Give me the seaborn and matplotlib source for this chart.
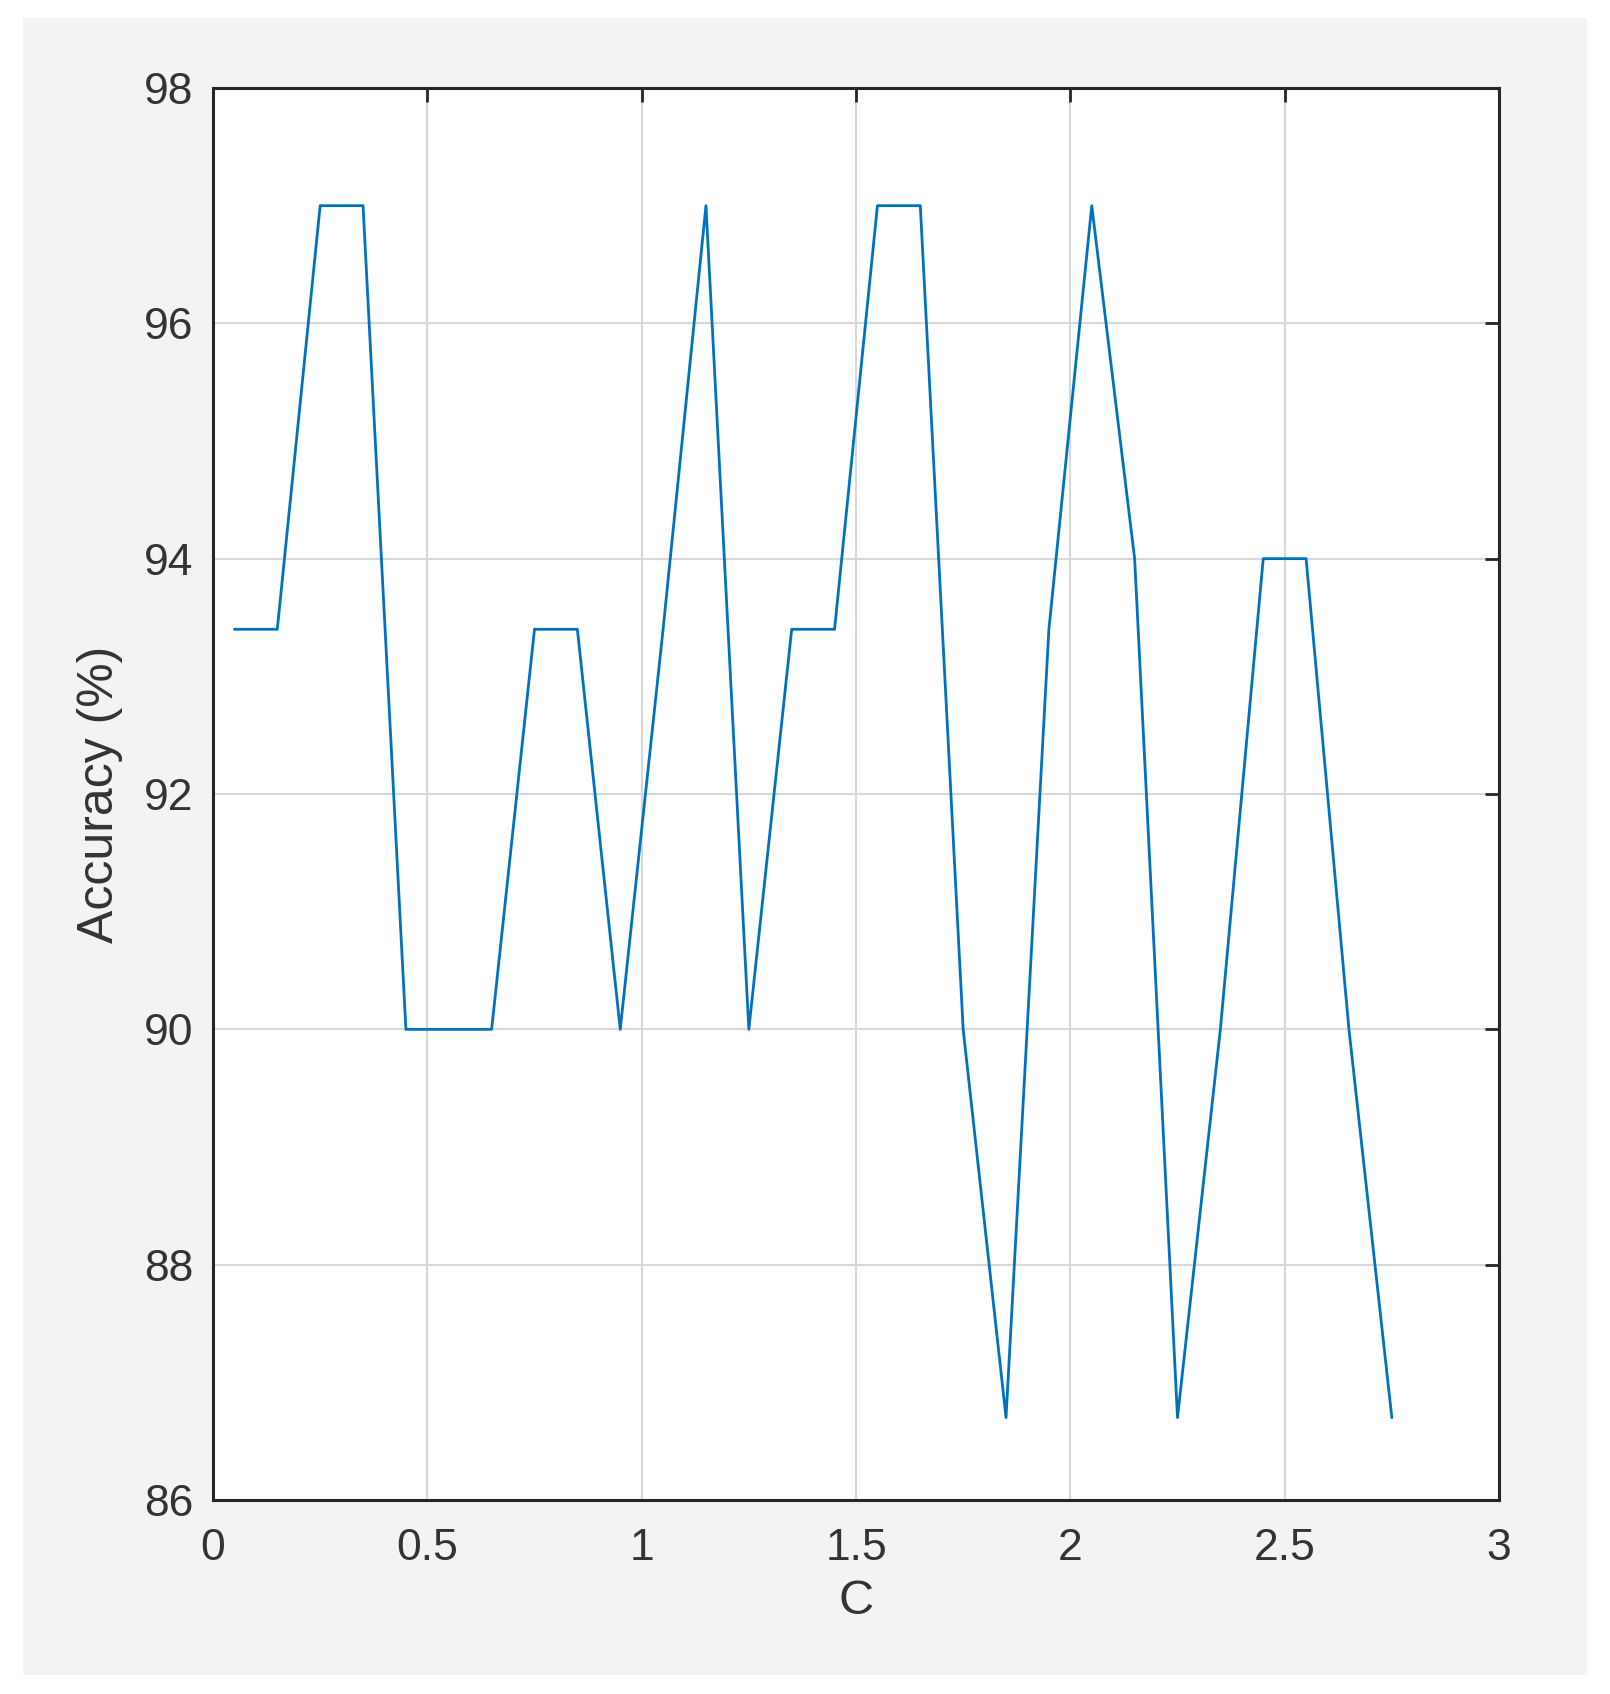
import matplotlib
matplotlib.use("Agg")
import matplotlib.pyplot as plt
import seaborn as sns
import pandas as pd

# data
c_values = [0.05, 0.15, 0.25, 0.35, 0.45, 0.55, 0.65, 0.75, 0.85, 0.95,
            1.05, 1.15, 1.25, 1.35, 1.45, 1.55, 1.65, 1.75, 1.85, 1.95,
            2.05, 2.15, 2.25, 2.35, 2.45, 2.55, 2.65, 2.75]
accuracy = [93.4, 93.4, 97.0, 97.0, 90.0, 90.0, 90.0, 93.4, 93.4, 90.0,
            93.4, 97.0, 90.0, 93.4, 93.4, 97.0, 97.0, 90.0, 86.7, 93.4,
            97.0, 94.0, 86.7, 90.0, 94.0, 94.0, 90.0, 86.7]
x_ticks = [0, 0.5, 1, 1.5, 2, 2.5, 3]
x_tick_labels = ["0", "0.5", "1", "1.5", "2", "2.5", "3"]
y_ticks = [86, 88, 90, 92, 94, 96, 98]

sns.set_style("white")
plt.rcParams['font.family'] = ['Liberation Sans', 'DejaVu Sans']

dados = pd.DataFrame({'C': c_values, 'Accuracy': accuracy})

fig = plt.figure(figsize=(16.10, 16.94), dpi=100)
fig.patch.set_facecolor('white')

# gray MATLAB-like figure background (separate axes underneath)
bg = fig.add_axes([23 / 1610, 19 / 1694, 1564 / 1610, 1657 / 1694], zorder=0)
bg.set_facecolor('#f3f3f3')
bg.set_xticks([])
bg.set_yticks([])
for s in bg.spines.values():
    s.set_visible(False)

ax = fig.add_axes([213 / 1610, 194 / 1694, 1286 / 1610, 1412 / 1694], zorder=2)
ax.set_facecolor('white')

sns.lineplot(data=dados, x='C', y='Accuracy', ax=ax, color='#0072BD', linewidth=2.0)

ax.set_xlim(0, 3)
ax.set_ylim(86, 98)
ax.set_xticks(x_ticks)
ax.set_xticklabels(x_tick_labels)
ax.set_yticks(y_ticks)

ax.grid(True, color='#d8d8d8', linewidth=1.5)
ax.set_axisbelow(True)

for s in ax.spines.values():
    s.set_visible(True)
    s.set_color('#262626')
    s.set_linewidth(2.2)

ax.tick_params(axis='both', direction='in', length=10, width=2, color='#262626',
               labelsize=32, labelcolor='#333333', top=True, right=True)
ax.tick_params(axis='x', pad=20)
ax.tick_params(axis='y', pad=14)

ax.set_xlabel('C', fontsize=35, color='#333333')
ax.set_ylabel('Accuracy (%)', fontsize=36, color='#333333')
ax.xaxis.set_label_coords(0.5, -0.072)
ax.xaxis.label.set_va('center')
ax.yaxis.set_label_coords(-0.088, 0.5)
ax.yaxis.label.set_va('center')

fig.savefig('out.png', dpi=100, facecolor='white')
